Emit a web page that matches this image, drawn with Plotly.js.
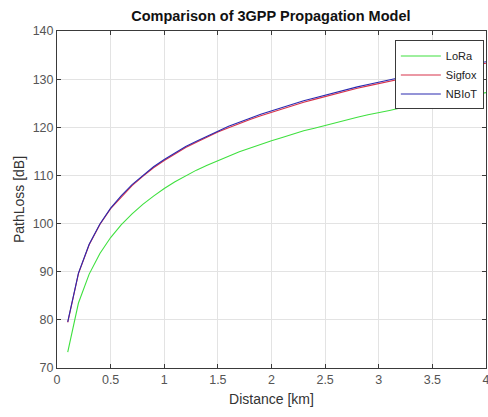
<!DOCTYPE html>
<html>
<head>
<meta charset="utf-8">
<script src="https://cdn.plot.ly/plotly-3.0.1.min.js"></script>
<style>html,body{margin:0;padding:0;background:#fff;}#chart{width:488px;height:417px;}</style>
</head>
<body>
<div id="chart"></div>
<script>
const distance = [0.1,0.2,0.3,0.4,0.5,0.6,0.7,0.8,0.9,1.0,1.1,1.2,1.3,1.4,1.5,1.6,1.7,1.8,1.9,2.0,2.1,2.2,2.3,2.4,2.5,2.6,2.7,2.8,2.9,3.0,3.1,3.2,3.3,3.4,3.5,3.6,3.7,3.8,3.9,4.0];
const lora = [73.3,83.5,89.5,93.8,97.1,99.8,102.0,104.0,105.7,107.3,108.7,109.9,111.1,112.1,113.1,114.0,114.9,115.7,116.5,117.2,117.9,118.6,119.3,119.8,120.4,121.0,121.5,122.1,122.6,123.0,123.5,124.0,124.4,124.8,125.3,125.7,126.0,126.4,126.8,127.2];
const sigfox = [79.5,89.6,95.6,99.8,103.1,105.6,107.9,109.8,111.6,113.1,114.5,115.8,116.9,118.0,119.0,119.9,120.8,121.6,122.4,123.1,123.9,124.5,125.2,125.8,126.4,127.0,127.5,128.1,128.6,129.1,129.6,130.0,130.5,130.9,131.3,131.7,132.1,132.6,132.9,133.3];
const nbiot = [79.6,89.7,95.7,99.9,103.2,105.8,108.1,110.0,111.8,113.3,114.7,116.0,117.1,118.2,119.2,120.2,121.1,121.9,122.7,123.4,124.2,124.8,125.5,126.1,126.7,127.3,127.8,128.4,128.9,129.4,129.9,130.3,130.8,131.2,131.6,132.0,132.4,132.9,133.2,133.6];
const xTicks = [0,0.5,1,1.5,2,2.5,3,3.5,4];
const xTickText = ['0','0.5','1','1.5','2','2.5','3','3.5','4'];
const yTicks = [70,80,90,100,110,120,130,140];

const font = "'Liberation Sans', Arial, sans-serif";
const traces = [
  {x: distance, y: lora, name: 'LoRa', mode: 'lines', line: {color: '#3fe03f', width: 1.1}},
  {x: distance, y: sigfox, name: 'Sigfox', mode: 'lines', line: {color: '#d8324a', width: 1.1}},
  {x: distance, y: nbiot, name: 'NBIoT', mode: 'lines', line: {color: '#2a2ab0', width: 1.1}}
];
const axisCommon = {
  showline: true, mirror: 'ticks', linecolor: '#3a3a3a', linewidth: 1,
  ticks: 'inside', ticklen: 4, tickcolor: '#3a3a3a',
  showgrid: true, gridcolor: '#e3e3e3', gridwidth: 1, zeroline: false,
  ticklabeloverflow: 'allow',
  tickfont: {family: font, size: 12.5, color: '#555555'}
};
const layout = {
  width: 488, height: 417,
  margin: {l: 57, r: 2, t: 31, b: 49},
  paper_bgcolor: '#ffffff', plot_bgcolor: '#ffffff',
  title: {text: '<b>Comparison of 3GPP Propagation Model</b>', font: {family: font, size: 14.5, color: '#111111'}, x: 0.555, xanchor: 'center', y: 0.963, yanchor: 'middle'},
  xaxis: Object.assign({}, axisCommon, {range: [0, 4], tickvals: xTicks, ticktext: xTickText,
    title: {text: 'Distance [km]', font: {family: font, size: 14, color: '#333333'}, standoff: 8}}),
  yaxis: Object.assign({}, axisCommon, {range: [70, 140], tickvals: yTicks,
    title: {text: 'PathLoss [dB]', font: {family: font, size: 14, color: '#333333'}, standoff: 4}}),
  showlegend: true,
  legend: {x: 0.995, xanchor: 'right', y: 0.972, yanchor: 'top', bgcolor: '#ffffff', bordercolor: '#3a3a3a', borderwidth: 1,
    font: {family: font, size: 11, color: '#222222'}, tracegroupgap: 0, itemwidth: 40}
};
Plotly.newPlot('chart', traces, layout, {displayModeBar: false, staticPlot: true});
</script>
</body>
</html>
